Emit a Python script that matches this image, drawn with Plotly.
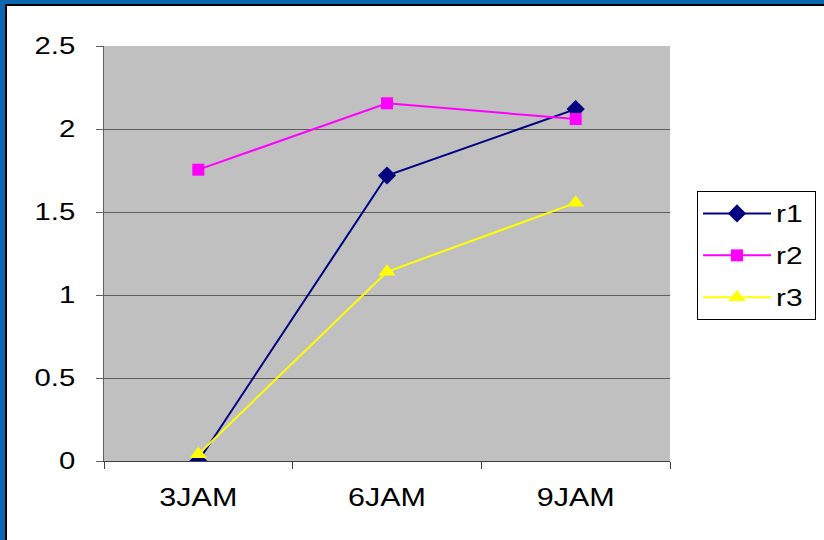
import plotly.graph_objects as go

# Readings per time point
categories = ["3JAM", "6JAM", "9JAM"]
r1 = [0.0, 1.72, 2.12]
r2 = [1.755, 2.155, 2.06]
r3 = [0.04, 1.14, 1.555]
y_tick_vals = [0, 0.5, 1, 1.5, 2, 2.5]

series = [
    ("r1", r1, "#000080", "diamond", 14),
    ("r2", r2, "#ff00ff", "square", 12),
    ("r3", r3, "#ffff00", "triangle-up", 15),
]

W, H = 824, 540
ML, MT, PW, PH = 104, 46, 566, 415

fig = go.Figure()
for name, vals, color, symbol, size in series:
    fig.add_trace(go.Scatter(
        x=categories, y=vals, name=name, legendgroup=name,
        mode="lines+markers",
        line=dict(color=color, width=2),
        marker=dict(symbol=symbol, size=size, color=color, line=dict(width=0)),
    ))


def px_x(p):
    return (p - ML) / PW


def px_y(p):
    return (MT + PH - p) / PH


# Frame along the left and top edges of the page
frame = [
    dict(x0=px_x(0), x1=px_x(5), y0=px_y(0), y1=px_y(H), fill="#0d66b0"),
    dict(x0=px_x(5), x1=px_x(7), y0=px_y(4), y1=px_y(H), fill="#000000"),
    dict(x0=px_x(0), x1=px_x(W), y0=px_y(0), y1=px_y(4), fill="#0d66b0"),
    dict(x0=px_x(5), x1=px_x(W), y0=px_y(4), y1=px_y(6), fill="#000000"),
]
shapes = [
    dict(type="rect", xref="paper", yref="paper", x0=f["x0"], x1=f["x1"],
         y0=f["y0"], y1=f["y1"], fillcolor=f["fill"], line=dict(width=0),
         layer="above")
    for f in frame
]

font = dict(family="Liberation Sans, Arial, sans-serif", color="#000000")

fig.update_layout(
    width=W, height=H,
    margin=dict(l=ML, r=W - ML - PW, t=MT, b=H - MT - PH, pad=0),
    paper_bgcolor="#ffffff",
    plot_bgcolor="#c0c0c0",
    font=dict(**font, size=24),
    shapes=shapes,
    showlegend=True,
    legend=dict(
        x=px_x(697), xanchor="left",
        y=px_y(191), yanchor="top",
        bgcolor="#ffffff",
        bordercolor="#000000", borderwidth=1,
        font=dict(**font, size=23),
        tracegroupgap=9,
        itemwidth=68,
    ),
    xaxis=dict(
        type="category",
        range=[-0.5, 2.5],
        tickson="boundaries",
        ticks="outside", ticklen=7, tickcolor="#404040", tickwidth=1,
        showline=True, linecolor="#404040", linewidth=1,
        showgrid=False, zeroline=False,
        ticklabelstandoff=14,
        tickfont=dict(**font, size=25),
    ),
    yaxis=dict(
        range=[0, 2.5],
        tickvals=y_tick_vals,
        ticktext=[f"{v:g}" for v in y_tick_vals],
        ticks="outside", ticklen=7, tickcolor="#606060", tickwidth=1,
        showline=True, linecolor="#606060", linewidth=1,
        showgrid=True, gridcolor="#5e5e5e", gridwidth=1,
        zeroline=False,
        ticklabelstandoff=16,
        tickfont=dict(**font, size=24),
    ),
)

# Widen the lettering horizontally (wide-set Arial look), then let the
# legend box grow to hold its widened labels.
stretch_js = """
var gd = document.getElementById('{plot_id}');
gd.querySelectorAll('text').forEach(function (t) {
  var w = t.getComputedTextLength();
  if (!w) { return; }
  var k = t.closest('.legend') ? 1.3 : 1.22;
  t.setAttribute('textLength', (w * k).toFixed(2));
  t.setAttribute('lengthAdjust', 'spacingAndGlyphs');
});
var lg = gd.querySelector('.legend');
if (lg) {
  var bg = lg.querySelector('rect.bg');
  if (bg) {
    var left = bg.getBoundingClientRect().left;
    var right = 0;
    lg.querySelectorAll('text').forEach(function (t) {
      right = Math.max(right, t.getBoundingClientRect().right);
    });
    bg.setAttribute('width', (right - left + 13).toFixed(1));
  }
}
"""

fig.write_html("out.html", post_script=stretch_js)
